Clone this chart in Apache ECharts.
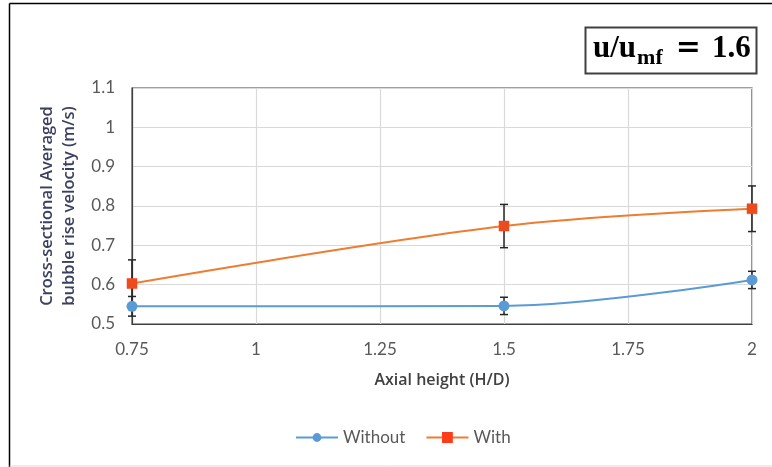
<!DOCTYPE html>
<html>
<head>
<meta charset="utf-8">
<script src="https://cdn.jsdelivr.net/npm/echarts@6/dist/echarts.min.js"></script>
<style>
  html, body { margin: 0; padding: 0; background: #fff; }
  #chart { width: 772px; height: 467px; }
</style>
</head>
<body>
<div id="chart"></div>
<script>
// Axial positions (H/D) and averaged bubble rise velocity (m/s)
const heights = [0.75, 1.5, 2];
const withoutVel = [0.545, 0.546, 0.612];
const withVel = [0.603, 0.749, 0.793];
// Half-widths of the error bars
const withoutErr = [0.025, 0.022, 0.022];
const withErr = [0.06, 0.055, 0.058];
const xTicks = [0.75, 1, 1.25, 1.5, 1.75, 2];
const yTicks = [0.5, 0.6, 0.7, 0.8, 0.9, 1, 1.1];

const chart = echarts.init(document.getElementById('chart'));

function pairs(xs, ys) { return xs.map((x, i) => [x, ys[i]]); }
function errRows(xs, ys, es) { return xs.map((x, i) => [x, ys[i] - es[i], ys[i] + es[i]]); }

function errorBar(params, api) {
  const x = api.value(0);
  const lo = api.coord([x, api.value(1)]);
  const hi = api.coord([x, api.value(2)]);
  const cap = 4;
  const style = { stroke: '#262626', lineWidth: 1.5 };
  return {
    type: 'group',
    children: [
      { type: 'line', shape: { x1: lo[0], y1: lo[1], x2: hi[0], y2: hi[1] }, style },
      { type: 'line', shape: { x1: lo[0] - cap, y1: lo[1], x2: lo[0] + cap, y2: lo[1] }, style },
      { type: 'line', shape: { x1: hi[0] - cap, y1: hi[1], x2: hi[0] + cap, y2: hi[1] }, style }
    ]
  };
}

const crossSquare = 'path://M0,0L10,0L10,10L0,10Z M1.5,2.5L2.5,1.5L5,4L7.5,1.5L8.5,2.5L6,5L8.5,7.5L7.5,8.5L5,6L2.5,8.5L1.5,7.5L4,5Z';
const font = 'Lato';
const nameFont = 'Open Sans';

chart.setOption({
  animation: false,
  backgroundColor: '#ffffff',
  grid: { left: 132, right: 20, top: 88, bottom: 143, show: true, borderColor: '#404040', borderWidth: 1.2 },
  xAxis: {
    type: 'value', min: 0.75, max: 2, interval: 0.25,
    name: 'Axial height (H/D)', nameLocation: 'middle', nameGap: 48,
    nameTextStyle: { fontFamily: nameFont, fontSize: 16, fontWeight: 600, color: '#404040' },
    axisLine: { show: true, lineStyle: { color: '#404040', width: 1.2 } },
    axisTick: { show: false },
    axisLabel: { fontFamily: font, fontSize: 17, color: '#595959', margin: 17,
      formatter: v => xTicks.includes(+v.toFixed(2)) ? String(+v.toFixed(2)) : '' },
    splitLine: { show: true, lineStyle: { color: '#d9d9d9', width: 1.2 } }
  },
  yAxis: {
    type: 'value', min: 0.5, max: 1.1, interval: 0.1,
    name: 'Cross-sectional Averaged\nbubble rise velocity (m/s)', nameLocation: 'middle', nameGap: 50,
    nameTextStyle: { fontFamily: nameFont, fontSize: 16.5, fontWeight: 600, color: '#3c4060', lineHeight: 22 },
    axisLine: { show: true, lineStyle: { color: '#404040', width: 1.2 } },
    axisTick: { show: false },
    axisLabel: { fontFamily: font, fontSize: 17, color: '#595959', margin: 17,
      formatter: v => { const r = +v.toFixed(1); return yTicks.includes(r) ? String(r) : ''; } },
    splitLine: { show: true, lineStyle: { color: '#d9d9d9', width: 1.2 } }
  },
  legend: {
    top: 424, left: 290, itemGap: 20, itemWidth: 42, itemHeight: 11,
    textStyle: { fontFamily: font, fontSize: 17, color: '#595959' },
    data: ['Without', 'With']
  },
  graphic: [
    { type: 'line', shape: { x1: 9.5, y1: 3.5, x2: 772, y2: 3.5 }, style: { stroke: '#000', lineWidth: 1.5 }, silent: true },
    { type: 'line', shape: { x1: 9.5, y1: 3.5, x2: 9.5, y2: 467 }, style: { stroke: '#000', lineWidth: 1.5 }, silent: true },
    { type: 'line', shape: { x1: 9.5, y1: 466, x2: 772, y2: 466 }, style: { stroke: '#d9d9d9', lineWidth: 1 }, silent: true },
    { type: 'rect', shape: { x: 585.5, y: 27.5, width: 171, height: 46 }, style: { fill: '#fff', stroke: '#404040', lineWidth: 2 }, silent: true },
    {
      type: 'text', left: 593, top: 33,
      style: {
        text: '{a|u/u}{s|mf}{e|=}{a|1.6}',
        rich: {
          a: { fontFamily: 'Liberation Serif', fontWeight: 'bold', fontSize: 31, color: '#404040', lineHeight: 36, verticalAlign: 'top' },
          s: { fontFamily: 'Liberation Serif', fontWeight: 'bold', fontSize: 22, color: '#404040', lineHeight: 36, verticalAlign: 'bottom', padding: [13, 0, 0, 1] },
          e: { fontFamily: 'DejaVu Serif', fontWeight: 'bold', fontSize: 30, color: '#404040', lineHeight: 36, verticalAlign: 'top', padding: [0, 11, 0, 13] }
        }
      }
    }
  ],
  series: [
    {
      name: 'Without', type: 'line', smooth: 0.35, data: pairs(heights, withoutVel), z: 3,
      symbol: 'circle', symbolSize: 11,
      lineStyle: { color: '#5b9bd5', width: 2 },
      itemStyle: { color: '#5b9bd5' }
    },
    {
      name: 'With', type: 'line', smooth: 0.35, data: pairs(heights, withVel), z: 3,
      symbol: crossSquare, symbolSize: 10,
      lineStyle: { color: '#ed7d31', width: 2 },
      itemStyle: { color: '#e8501f', borderColor: '#ff3b1a', borderWidth: 0.5 }
    },
    {
      name: 'errWithout', type: 'custom', renderItem: errorBar, data: errRows(heights, withoutVel, withoutErr),
      encode: { x: 0, y: [1, 2] }, z: 2, silent: true
    },
    {
      name: 'errWith', type: 'custom', renderItem: errorBar, data: errRows(heights, withVel, withErr),
      encode: { x: 0, y: [1, 2] }, z: 2, silent: true
    }
  ]
});
</script>
</body>
</html>
